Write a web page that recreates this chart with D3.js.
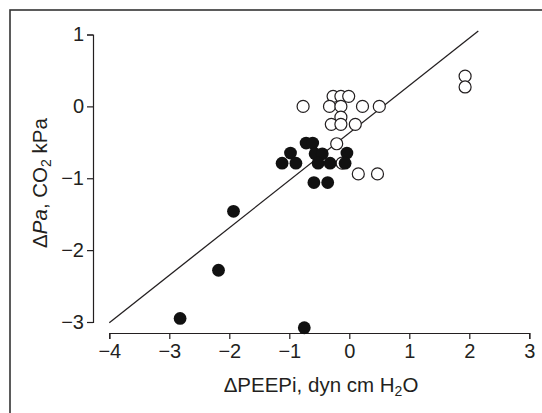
<!DOCTYPE html>
<html>
<head>
<meta charset="utf-8">
<script src="https://cdn.jsdelivr.net/npm/d3@7"></script>
<style>
  body { margin: 0; background: #fff; }
  text { font-family: "Liberation Sans", Arial, sans-serif; fill: #231f20; }
</style>
</head>
<body>
<div id="chart-area"></div>
<script>
// open circles (one group)
const openX = [-0.77, -0.27, -0.14, -0.01, -0.33, -0.14, 0.22, 0.50, -0.14, -0.30, -0.14, 0.10, -0.21, -0.12, 0.15, 0.47, 1.93, 1.93]
const openY = [0.0, 0.14, 0.14, 0.14, 0.0, 0.0, 0.0, 0.0, -0.15, -0.25, -0.25, -0.25, -0.52, -0.79, -0.94, -0.94, 0.42, 0.27]

// filled circles (other group)
const filledX = [-0.72, -0.61, -0.98, -0.57, -0.45, -0.04, -1.12, -0.89, -0.52, -0.32, -0.07, -0.59, -0.36, -1.93, -2.18, -2.82, -0.75]
const filledY = [-0.51, -0.51, -0.65, -0.66, -0.66, -0.65, -0.79, -0.79, -0.79, -0.79, -0.79, -1.06, -1.06, -1.46, -2.28, -2.95, -3.08]

// regression line end points
const fitX = [-4, 2.15]
const fitY = [-3.01, 1.05]

const xTicks = [-4, -3, -2, -1, 0, 1, 2, 3]
const yTicks = [-3, -2, -1, 0, 1]

const width = 542, height = 413

const svg = d3.select("#chart-area").append("svg")
  .attr("width", width)
  .attr("height", height)

// outer frame (right/bottom edges fall outside the picture)
svg.append("rect")
  .attr("x", 10).attr("y", 10)
  .attr("width", 600).attr("height", 500)
  .attr("fill", "none")
  .attr("stroke", "#333")
  .attr("stroke-width", 1.6)

const x = d3.scaleLinear().domain([-4, 3]).range([109.3, 529.3])
const y = d3.scaleLinear().domain([-3, 1]).range([322, 34.5])

const fmt = d3.format("d")

svg.append("g")
  .attr("transform", "translate(0,333)")
  .call(d3.axisBottom(x).tickValues(xTicks).tickFormat(fmt).tickSizeOuter(0).tickSize(6).tickPadding(5))

svg.append("g")
  .attr("transform", "translate(93,0)")
  .call(d3.axisLeft(y).tickValues(yTicks).tickFormat(fmt).tickSizeOuter(0).tickSize(6).tickPadding(3))

svg.selectAll(".domain, .tick line").attr("stroke", "#231f20").attr("stroke-width", 1.2)
svg.selectAll(".tick text")
  .attr("font-size", 20)
  .attr("font-family", "Liberation Sans, Arial, sans-serif")
  .attr("fill", "#231f20")

// regression line
svg.append("line")
  .attr("x1", x(fitX[0])).attr("y1", y(fitY[0]))
  .attr("x2", x(fitX[1])).attr("y2", y(fitY[1]))
  .attr("stroke", "#231f20")
  .attr("stroke-width", 1.3)

const openData = openX.map((d, i) => ({x: d, y: openY[i]}))
const filledData = filledX.map((d, i) => ({x: d, y: filledY[i]}))

svg.selectAll("circle.open")
  .data(openData)
  .enter().append("circle")
  .attr("class", "open")
  .attr("cx", d => x(d.x))
  .attr("cy", d => y(d.y))
  .attr("r", 6)
  .attr("fill", "#fff")
  .attr("stroke", "#231f20")
  .attr("stroke-width", 1.2)

svg.selectAll("circle.filled")
  .data(filledData)
  .enter().append("circle")
  .attr("class", "filled")
  .attr("cx", d => x(d.x))
  .attr("cy", d => y(d.y))
  .attr("r", 6.4)
  .attr("fill", "#111")

// x axis title
const xt = svg.append("text")
  .attr("x", 321).attr("y", 392)
  .attr("text-anchor", "middle")
  .attr("font-size", 20.5)
xt.append("tspan").text("ΔPEEPi, dyn cm H")
xt.append("tspan").attr("dy", 4).attr("font-size", 14).text("2")
xt.append("tspan").attr("dy", -4).text("O")

// y axis title
const yt = svg.append("text")
  .attr("transform", "translate(47,183) rotate(-90)")
  .attr("text-anchor", "middle")
  .attr("font-size", 20.5)
yt.append("tspan").text("Δ")
yt.append("tspan").attr("font-style", "italic").text("Pa")
yt.append("tspan").text(", CO")
yt.append("tspan").attr("dy", 4).attr("font-size", 14).text("2")
yt.append("tspan").attr("dy", -4).text(" kPa")
</script>
</body>
</html>
